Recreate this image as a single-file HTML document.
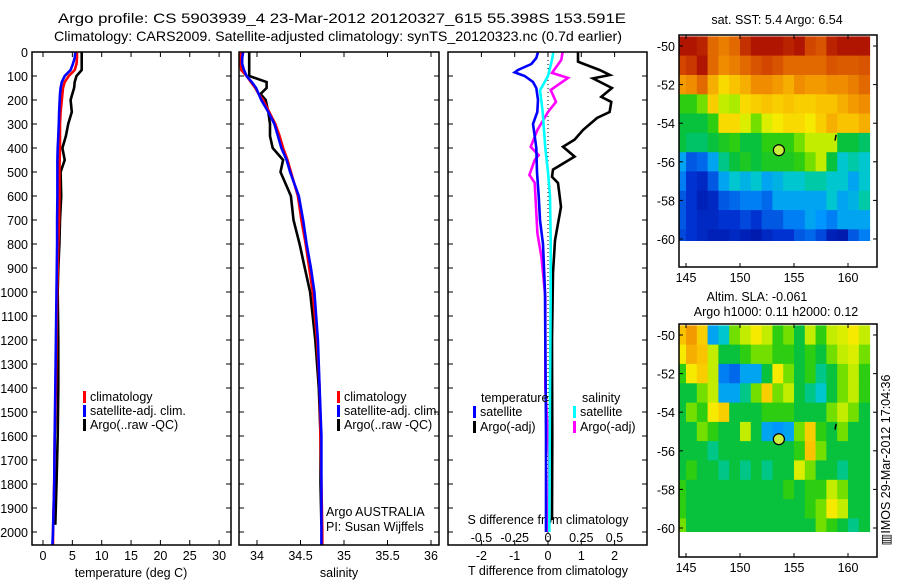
<!DOCTYPE html>
<html><head><meta charset="utf-8"><style>
body{margin:0;background:#fff;}
svg text{font-family:"Liberation Sans",sans-serif;font-size:12.5px;fill:#000;}
</style></head><body>
<svg id="fig" width="900" height="580" viewBox="0 0 900 580" xmlns="http://www.w3.org/2000/svg">
<defs>
<clipPath id="c1"><rect x="32" y="52" width="199" height="493"/></clipPath>
<clipPath id="c2"><rect x="239" y="52" width="200" height="493"/></clipPath>
<clipPath id="c3"><rect x="448" y="52" width="199" height="493"/></clipPath>
<clipPath id="m1"><rect x="679" y="35" width="198" height="206"/></clipPath>
<clipPath id="m2"><rect x="679" y="324" width="198" height="208"/></clipPath>
</defs>
<text x="342" y="23" text-anchor="middle" textLength="568" lengthAdjust="spacingAndGlyphs" style="font-size:14px">Argo profile: CS 5903939_4 23-Mar-2012 20120327_615 55.398S 153.591E</text>
<text x="338" y="41" text-anchor="middle" textLength="568" lengthAdjust="spacingAndGlyphs" style="font-size:14px">Climatology: CARS2009. Satellite-adjusted climatology: synTS_20120323.nc (0.7d earlier)</text>
<g id="g"></g>
</svg>
<script>
// ---- data ----
const depthClim = [0,25,50,75,100,125,150,175,200,250,300,350,400,450,500,600,700,800,900,1000,1200,1400,1600,1800,2000,2054];
const tempClim = [5.8,5.8,5.7,5.4,4.4,3.7,3.4,3.3,3.2,3.0,2.9,2.9,2.9,2.85,2.8,2.8,2.75,2.6,2.5,2.4,2.3,2.2,2.0,1.9,1.7,1.7];
const tempSat = [5.5,5.4,5.1,4.7,3.7,3.2,3.0,2.9,2.85,2.75,2.7,2.6,2.5,2.45,2.45,2.45,2.4,2.4,2.35,2.3,2.2,2.1,2.0,1.9,1.7,1.6];
const depthArgo = [0,25,50,75,100,125,150,175,200,250,300,350,400,450,500,600,700,800,900,1000,1200,1400,1600,1800,1970];
const tempArgo = [6.6,6.6,6.6,6.6,5.7,5.4,5.3,5.0,4.7,4.9,4.3,3.9,3.3,3.7,3.0,3.1,2.9,2.8,2.6,2.5,2.6,2.6,2.5,2.3,2.1];
const salClim = [33.81,33.81,33.81,33.82,33.88,33.93,33.98,34.02,34.07,34.14,34.21,34.26,34.30,34.35,34.39,34.47,34.51,34.56,34.60,34.64,34.69,34.72,34.73,34.74,34.75,34.75];
const salSat = [33.84,33.83,33.83,33.85,33.88,33.94,33.99,34.02,34.05,34.13,34.20,34.24,34.28,34.34,34.38,34.48,34.53,34.57,34.62,34.66,34.70,34.72,34.74,34.74,34.74,34.74];
const salArgo = [33.91,33.91,33.91,33.91,33.91,34.11,34.11,34.04,34.10,34.13,34.15,34.15,34.18,34.30,34.27,34.39,34.42,34.49,34.55,34.61,34.67,34.71,34.73,34.73,34.74];
const depthTSatDiff = [0,25,50,75,85,100,125,150,200,250,300,350,400,500,600,700,800,900,1000,1200,1400,1600,1800,2000];
const tSatDiff = [-0.3,-0.35,-0.5,-0.9,-1.0,-0.7,-0.45,-0.35,-0.3,-0.32,-0.45,-0.4,-0.35,-0.33,-0.28,-0.24,-0.15,-0.12,-0.09,-0.08,-0.07,-0.06,-0.06,-0.06];
const depthTArgoDiff = [0,40,46,75,96,110,150,187,208,250,275,325,365,395,436,490,520,546,645,785,920,1200,1600,1950];
const tArgoDiff = [0.9,0.9,1.0,1.55,1.86,1.35,1.92,1.6,1.9,1.85,1.47,1.05,0.8,0.45,0.8,0.15,0.12,0.3,0.39,0.21,0.15,0.12,0.13,0.12];
const depthSSatDiff = [0,33,100,160,250,400,500,600,785,1000,1400,2000];
const sSatDiff = [0.04,0.03,0.0,-0.06,-0.04,-0.02,0.0,0.015,0.02,0.02,0.015,0.01];
const depthSArgoDiff = [0,33,87,108,158,208,250,325,395,430,450,512,545,755,853,1020,1400,1700,2000];
const sArgoDiff = [0.11,0.1,0.03,0.15,0.02,0.06,0.0,-0.08,-0.13,-0.07,-0.1,-0.14,-0.1,-0.08,-0.05,-0.02,-0.02,0.01,0.0];
const depthTicks = [0,100,200,300,400,500,600,700,800,900,1000,1100,1200,1300,1400,1500,1600,1700,1800,1900,2000];
const tempTicks = [0,5,10,15,20,25,30];
const salTicks = [34,34.5,35,35.5,36];
const tDiffTicks = [-2,-1,0,1,2];
const sDiffTicks = [-0.5,-0.25,0,0.25,0.5];
const mapLons = [145,150,155,160];
const mapLats = [-50,-52,-54,-56,-58,-60];
const gridLatCenters = [-50,-51,-52,-53,-54,-55,-56,-57,-58,-59,-60];
const gridLonCenters = [144.5,145.5,146.5,147.5,148.5,149.5,150.5,151.5,152.5,153.5,154.5,155.5,156.5,157.5,158.5,159.5,160.5,161.5];
const sstGrid = [
[.97,.97,.95,.85,.82,.85,.93,.97,.97,.97,.95,.97,.9,.88,.95,.97,.97,.97],
[.9,.92,.97,.85,.8,.82,.85,.88,.9,.88,.85,.85,.85,.85,.88,.87,.87,.88],
[.78,.8,.85,.75,.68,.72,.75,.8,.8,.78,.75,.8,.78,.78,.8,.8,.82,.85],
[.5,.5,.55,.7,.6,.58,.68,.7,.72,.7,.72,.7,.7,.72,.72,.75,.78,.8],
[.45,.45,.45,.5,.68,.68,.62,.55,.62,.65,.68,.68,.65,.7,.75,.72,.72,.75],
[.45,.42,.42,.45,.48,.5,.45,.45,.5,.5,.5,.55,.6,.6,.6,.45,.45,.42],
[.3,.2,.22,.3,.4,.45,.48,.45,.48,.48,.48,.5,.55,.6,.45,.35,.38,.35],
[.25,.15,.12,.2,.3,.35,.32,.35,.3,.32,.35,.35,.38,.38,.35,.35,.3,.35],
[.2,.15,.1,.12,.2,.22,.25,.25,.22,.3,.3,.3,.3,.3,.35,.3,.32,.38],
[.2,.15,.12,.12,.15,.15,.18,.15,.2,.2,.25,.25,.3,.28,.25,.3,.3,.3],
[.18,.15,.12,.1,.1,.12,.1,.08,.12,.15,.15,.2,.22,.18,.1,.08,.2,.25]];
const slaGrid = [
[.72,.78,.7,.3,.35,.55,.6,.65,.6,.5,.55,.45,.6,.5,.6,.62,.65,.6],
[.65,.75,.72,.6,.45,.45,.5,.55,.55,.5,.5,.45,.5,.45,.55,.6,.62,.55],
[.5,.65,.7,.6,.25,.22,.3,.3,.45,.65,.55,.45,.5,.4,.45,.55,.6,.5],
[.45,.45,.55,.6,.3,.3,.4,.55,.7,.55,.6,.45,.4,.35,.45,.55,.6,.5],
[.45,.55,.5,.65,.7,.45,.45,.45,.5,.5,.5,.45,.45,.45,.55,.6,.55,.45],
[.45,.45,.55,.5,.45,.45,.6,.45,.3,.28,.3,.55,.7,.5,.45,.55,.45,.45],
[.45,.45,.45,.4,.45,.45,.45,.45,.45,.45,.45,.5,.72,.55,.45,.45,.45,.45],
[.45,.5,.45,.45,.4,.45,.4,.45,.4,.45,.45,.62,.55,.45,.45,.4,.45,.45],
[.5,.45,.45,.45,.45,.45,.45,.45,.45,.45,.5,.45,.5,.5,.6,.55,.45,.45],
[.5,.45,.45,.45,.45,.45,.45,.45,.45,.45,.45,.45,.5,.55,.65,.6,.45,.45],
[.55,.45,.45,.45,.45,.45,.45,.45,.45,.45,.45,.45,.45,.55,.5,.45,.4,.45]];
const argoPos = [153.6,-55.4];

// ---- helpers ----
const NS='http://www.w3.org/2000/svg';
const G=document.getElementById('g');
function mk(tag,at,parent){const e=document.createElementNS(NS,tag);for(const k in at)e.setAttribute(k,at[k]);(parent||G).appendChild(e);return e;}
const yD=d=>52+d*0.24;
const xT=t=>43+t*5.87;
const xS=s=>257+(s-34)*87;
const xTd=t=>548+t*33.3;
const xSd=s=>548+s*133;
function line(xs,ds,xf,color,name,clip,w){
  const pts=xs.map((v,i)=>xf(v).toFixed(1)+','+yD(ds[i]).toFixed(1)).join(' ');
  const p=mk('polyline',{points:pts,fill:'none',stroke:color,'stroke-width':w||2.6,'stroke-linejoin':'miter','clip-path':'url(#'+clip+')'});
  
  
}
function txt(x,y,s,anchor,name,parent){const t=mk('text',{x:x,y:y,'text-anchor':anchor||'start'},parent);t.textContent=s;
  
  return t;}
function frame(x,y,w,h,name){const r=mk('rect',{x:x,y:y,width:w,height:h,fill:'none',stroke:'#000','stroke-width':1.5});
  
  }
function tick(x1,y1,x2,y2){mk('line',{x1:x1,y1:y1,x2:x2,y2:y2,stroke:'#000','stroke-width':1});}

// ---- panel frames and ticks ----
const panels=[[32,199,'c1'],[239,200,'c2'],[448,199,'c3']];
depthTicks.forEach(d=>{
  panels.forEach(p=>{tick(p[0],yD(d),p[0]+5,yD(d));tick(p[0]+p[1],yD(d),p[0]+p[1]-5,yD(d));});
  txt(28,yD(d)+5,String(d),'end','depth-tick-label');
});
tempTicks.forEach(t=>{tick(xT(t),52,xT(t),57);tick(xT(t),545,xT(t),540);txt(xT(t),560,String(t),'middle','temperature-tick-label');});
salTicks.forEach(s=>{tick(xS(s),52,xS(s),57);tick(xS(s),545,xS(s),540);txt(xS(s),560,String(s),'middle','salinity-tick-label');});
tDiffTicks.forEach(t=>{tick(xTd(t),52,xTd(t),57);tick(xTd(t),545,xTd(t),540);txt(xTd(t),560,String(t),'middle','t-diff-tick-label');});
sDiffTicks.forEach(s=>{txt(xSd(s),542,String(s),'middle','s-diff-tick-label');});
txt(131,577,'temperature (deg C)','middle','temperature-axis-title');
txt(339,577,'salinity','middle','salinity-axis-title');
txt(548,575,'T difference from climatology','middle','t-diff-axis-title');
txt(548,524,'S difference from climatology','middle','s-diff-axis-title');

const z=mk('line',{x1:548,y1:52,x2:548,y2:545,stroke:'#000','stroke-width':1,'stroke-dasharray':'1,3'});



// ---- series ----
line(tempArgo,depthArgo,xT,'#000','temperature-argo-line','c1');
line(tempClim,depthClim,xT,'#f00','temperature-climatology-line','c1');
line(tempSat,depthClim,xT,'#00f','temperature-satellite-line','c1');
line(salArgo,depthArgo,xS,'#000','salinity-argo-line','c2');
line(salClim,depthClim,xS,'#f00','salinity-climatology-line','c2');
line(salSat,depthClim,xS,'#00f','salinity-satellite-line','c2');
line(tArgoDiff,depthTArgoDiff,xTd,'#000','t-argo-diff-line','c3');
line(sArgoDiff,depthSArgoDiff,xSd,'#f0f','s-argo-diff-line','c3');
line(tSatDiff,depthTSatDiff,xTd,'#00f','t-satellite-diff-line','c3');
line(sSatDiff,depthSSatDiff,xSd,'#0ff','s-satellite-diff-line','c3');

panels.forEach((p,i)=>frame(p[0],52,p[1],493,'profile-panel-frame-'+(i+1)));

// ---- legends ----
function leg(x,y,c,s,name){const r=mk('rect',{x:x,y:y-10,width:3,height:12,fill:c});
  
  
  txt(x+7,y,s,'start',name);}
[[83,'climatology','#f00'],[83,'satellite-adj. clim.','#00f'],[83,'Argo(..raw -QC)','#000']].forEach((e,i)=>leg(e[0],401+i*14,e[2],e[1],'temp-legend-entry'));
[[337,'climatology','#f00'],[337,'satellite-adj. clim.','#00f'],[337,'Argo(..raw -QC)','#000']].forEach((e,i)=>leg(e[0],401+i*14,e[2],e[1],'sal-legend-entry'));
txt(481,402,'temperature','start','diff-legend-temperature-header');
txt(582,402,'salinity','start','diff-legend-salinity-header');
leg(473,416,'#00f','satellite','diff-legend-t-satellite');
leg(473,431,'#000','Argo(-adj)','diff-legend-t-argo');
leg(573,416,'#0ff','satellite','diff-legend-s-satellite');
leg(573,431,'#f0f','Argo(-adj)','diff-legend-s-argo');
txt(326,516,'Argo AUSTRALIA','start','argo-program-label');
txt(326,531,'PI: Susan Wijffels','start','pi-label');

// ---- maps ----
const cmapStops=[[0,[0,0,130]],[0.15,[0,50,210]],[0.28,[0,150,255]],[0.36,[0,205,200]],[0.44,[0,190,70]],[0.52,[60,210,0]],[0.58,[170,235,0]],[0.64,[245,240,0]],[0.72,[250,195,0]],[0.8,[240,140,0]],[0.9,[210,70,0]],[1,[160,0,0]]];
function cmap(v){v=Math.max(0,Math.min(1,v));
  for(let i=1;i<cmapStops.length;i++){const a=cmapStops[i-1],b=cmapStops[i];
    if(v<=b[0]){const f=(v-a[0])/(b[0]-a[0]);return 'rgb('+a[1].map((c,k)=>Math.round(c+(b[1][k]-c)*f)).join(',')+')';}}
  return 'rgb(160,0,0)';}
function map(top,bottom,grid,clip,name){
  const lat0=top+11, x0=686;
  const px=lon=>x0+(lon-145)*10.8, py=lat=>lat0+(-50-lat)*19.3;
  const g=mk('g',{'clip-path':'url(#'+clip+')'});
  
  
  gridLatCenters.forEach((lat,i)=>gridLonCenters.forEach((lon,j)=>{
    const c=mk('rect',{x:px(lon-0.5).toFixed(1),y:py(lat+0.5).toFixed(1),width:11.3,height:19.8,fill:cmap(grid[i][j])},g);
    
    
  }));
  frame(679,top,198,bottom-top,name+'-frame');
  mapLons.forEach(l=>{tick(px(l),top,px(l),top+4);tick(px(l),bottom,px(l),bottom-4);txt(px(l),bottom+15,String(l),'middle',name+'-lon-label');});
  mapLats.forEach(l=>{tick(679,py(l),683,py(l));tick(877,py(l),873,py(l));txt(675,py(l)+5,String(l),'end',name+'-lat-label');});
  const d=mk('circle',{cx:px(argoPos[0]),cy:py(argoPos[1]),r:5.5,fill:'#c8f03c',stroke:'#000','stroke-width':1.2});
  
  
  mk('line',{x1:px(158.9),y1:py(-54.6),x2:px(158.8),y2:py(-54.9),stroke:'#000','stroke-width':1.5});
}
map(35,267,sstGrid,'m1','sst-map');
map(324,557,slaGrid,'m2','sla-map');
txt(777,24,'sat. SST: 5.4  Argo: 6.54','middle','sst-map-title');
txt(757,301,'Altim. SLA: -0.061','middle','sla-map-title-1');
txt(776,316,'Argo h1000: 0.11 h2000: 0.12','middle','sla-map-title-2');
const im=txt(0,0,'\u25A5IMOS 29-Mar-2012 17:04:36','middle','imos-timestamp');
im.setAttribute('transform','translate(890,460) rotate(-90)');
</script>
</body></html>
